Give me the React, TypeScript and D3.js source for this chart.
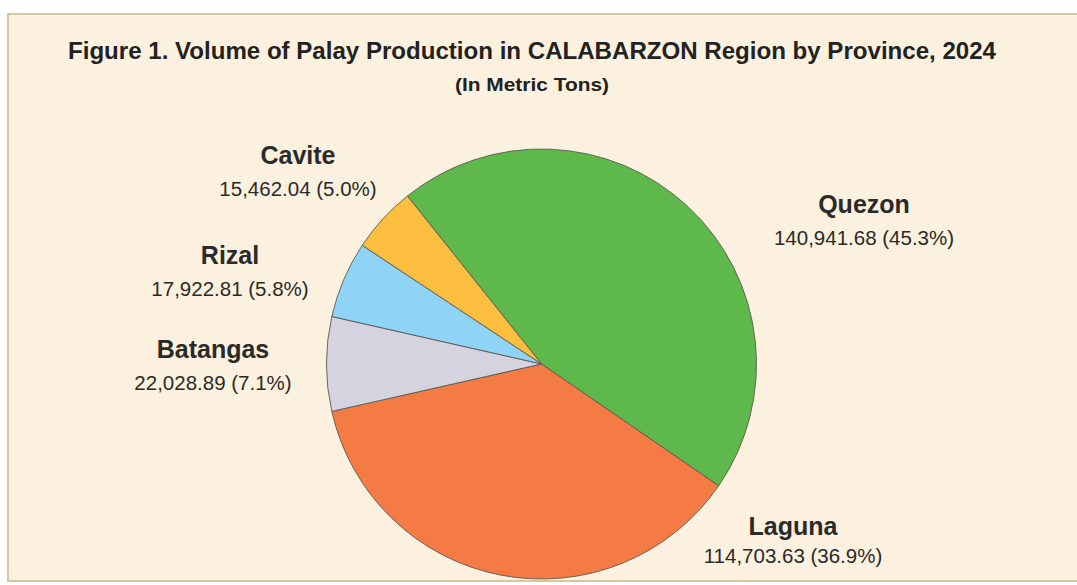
import React, { useEffect, useRef } from "react";
import * as d3 from "d3";

const provinces = ["Quezon", "Laguna", "Batangas", "Rizal", "Cavite"];
const volumes = [140941.68, 114703.63, 22028.89, 17922.81, 15462.04];
const shares = ["45.3%", "36.9%", "7.1%", "5.8%", "5.0%"];
const colors = ["#5fb84b", "#f47b44", "#d4d3df", "#8fd4f7", "#fbbe3f"];
// label anchor (centre x, name baseline y) beside each slice
const labelPos: [number, number][] = [
  [864, 213],
  [793, 535],
  [213, 358],
  [230, 264],
  [298, 164],
];

const W = 1077;
const H = 585;

function App() {
  const ref = useRef<SVGSVGElement>(null);

  useEffect(() => {
    const svg = d3.select(ref.current);
    svg.selectAll("*").remove();

    // paper background with frame
    svg
      .append("rect")
      .attr("x", 8)
      .attr("y", 14)
      .attr("width", W + 20)
      .attr("height", 567)
      .attr("fill", "#fcf1de")
      .attr("stroke", "#d8c6a3")
      .attr("stroke-width", 2);

    svg
      .append("text")
      .attr("x", 532)
      .attr("y", 59)
      .attr("text-anchor", "middle")
      .attr("textLength", 928)
      .attr("lengthAdjust", "spacingAndGlyphs")
      .style("font-family", "Liberation Sans, Arial, sans-serif")
      .style("font-weight", "bold")
      .style("font-size", "23px")
      .attr("fill", "#222")
      .text("Figure 1. Volume of Palay Production in CALABARZON Region by Province, 2024");

    svg
      .append("text")
      .attr("x", 532)
      .attr("y", 91)
      .attr("text-anchor", "middle")
      .attr("textLength", 154)
      .attr("lengthAdjust", "spacingAndGlyphs")
      .style("font-family", "Liberation Sans, Arial, sans-serif")
      .style("font-weight", "bold")
      .style("font-size", "18px")
      .attr("fill", "#222")
      .text("(In Metric Tons)");

    const cx = 541.5;
    const cy = 364;
    const r = 215;
    const start = (-38.6 * Math.PI) / 180;

    const pie = d3
      .pie<number>()
      .sort(null)
      .value((d) => d)
      .startAngle(start)
      .endAngle(start + 2 * Math.PI);

    const arc = d3.arc<d3.PieArcDatum<number>>().innerRadius(0).outerRadius(r);

    const g = svg.append("g").attr("transform", `translate(${cx},${cy})`);
    g.selectAll("path")
      .data(pie(volumes))
      .join("path")
      .attr("d", arc)
      .attr("fill", (_, i) => colors[i])
      .attr("stroke", "#5a5a52")
      .attr("stroke-width", 0.9);

    const fmt = d3.format(",.2f");
    const labels = svg
      .selectAll("g.lbl")
      .data(provinces)
      .join("g")
      .attr("class", "lbl")
      .attr("transform", (_, i) => `translate(${labelPos[i][0]},${labelPos[i][1]})`)
      .style("font-family", "Liberation Sans, Arial, sans-serif")
      .attr("text-anchor", "middle")
      .attr("fill", "#2a2a2a");

    labels
      .append("text")
      .style("font-weight", "bold")
      .style("font-size", "25px")
      .text((d) => d);

    labels
      .append("text")
      .attr("y", (_, i) => (i === 1 ? 28 : 32))
      .style("font-size", "20.5px")
      .text((_, i) => `${fmt(volumes[i])} (${shares[i]})`);
  }, []);

  return (
    <svg
      ref={ref}
      width={W}
      height={H}
      style={{ position: "absolute", left: 0, top: 0, background: "#ffffff" }}
    />
  );
}

export default App;
